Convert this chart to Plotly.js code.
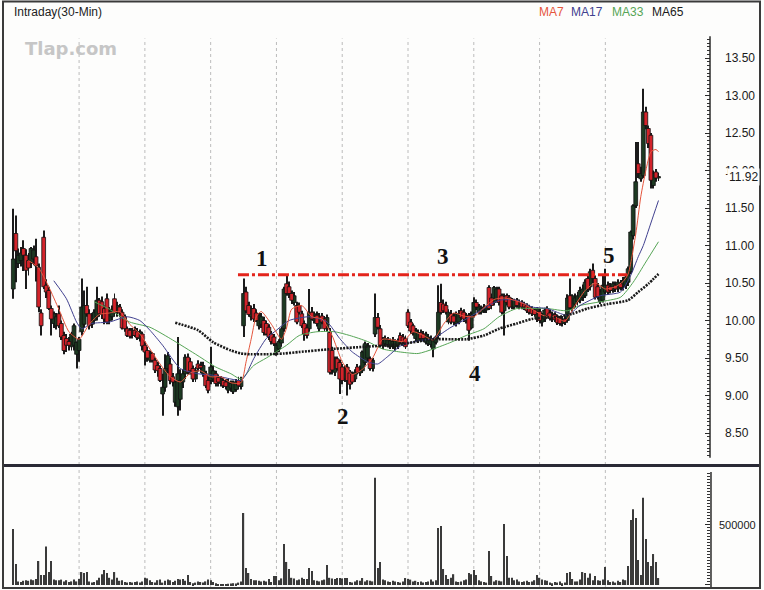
<!DOCTYPE html>
<html><head><meta charset="utf-8">
<script src="https://cdn.plot.ly/plotly-3.0.1.min.js"></script>
<style>html,body{margin:0;padding:0;background:#fdfdfc;} #chart{width:764px;height:590px;}</style>
</head><body><div id="chart"></div>
<script>
// ---------------- DATA ----------------
const openP = [10.42,11.16,10.76,10.80,10.96,10.87,10.80,10.76,10.82,10.85,
 10.71,10.10,11.11,10.47,10.40,10.16,9.96,9.93,10.09,9.96,
 9.80,9.76,9.72,9.65,9.67,9.55,9.60,9.85,9.95,10.20,
 10.09,9.95,10.00,10.05,10.27,10.25,10.16,10.29,10.00,10.05,
 10.29,10.10,10.18,10.11,10.05,9.89,9.87,9.80,9.87,9.85,
 9.76,9.82,9.67,9.60,9.47,9.56,9.47,9.40,9.36,9.02,
 9.11,9.36,9.42,9.25,8.91,8.85,8.95,9.18,9.29,9.51,
 9.45,9.36,9.22,9.42,9.40,9.29,9.29,9.20,9.20,9.22,
 9.29,9.24,9.16,9.20,9.18,9.07,9.10,9.05,9.08,9.20,
 9.12,9.93,10.38,10.20,10.05,10.16,10.10,9.93,9.95,10.00,
 9.96,9.91,9.82,9.78,9.58,9.62,9.70,9.89,10.49,10.45,
 10.36,10.24,10.20,10.20,10.09,9.96,9.90,9.89,10.11,10.00,
 10.07,9.89,10.06,10.02,9.89,9.84,9.60,9.31,9.49,9.44,
 9.38,9.22,9.38,9.30,9.29,9.22,9.38,9.30,9.33,9.44,
 9.50,9.49,9.36,9.82,10.04,9.89,9.67,9.69,9.68,9.65,
 9.66,9.65,9.67,9.80,9.78,9.76,10.11,9.98,9.93,9.76,
 9.73,9.84,9.82,9.71,9.69,9.68,9.62,9.71,9.80,10.24,
 10.22,10.20,9.98,10.09,10.06,9.96,9.98,10.13,10.11,10.00,
 10.07,9.90,10.07,10.24,10.11,10.11,10.13,10.14,10.44,10.30,
 10.24,10.28,10.42,10.33,10.13,10.33,10.31,10.18,10.18,10.27,
 10.18,10.24,10.22,10.20,10.18,10.16,10.14,10.02,10.12,9.98,
 10.02,10.16,10.10,10.02,10.08,10.05,10.03,9.96,10.02,10.00,
 10.33,10.16,10.22,10.25,10.27,10.31,10.33,10.56,10.45,10.67,
 10.56,10.45,10.25,10.27,10.38,10.47,10.45,10.40,10.47,10.42,
 10.49,10.45,10.47,10.51,10.65,11.13,11.53,12.09,11.89,11.93,
 12.78,12.56,12.47,11.80,11.98,11.90];
const highP = [11.49,11.40,10.96,10.98,11.07,10.95,10.90,10.98,11.00,11.09,
 10.76,10.15,11.20,10.55,10.45,10.20,10.12,10.10,10.20,10.00,
 9.85,9.82,9.78,9.85,9.96,9.72,9.78,10.56,10.40,10.45,
 10.15,10.10,10.15,10.45,10.30,10.32,10.20,10.36,10.18,10.20,
 10.36,10.25,10.22,10.15,10.08,9.92,9.90,9.90,9.92,9.90,
 9.88,9.85,9.72,9.65,9.60,9.58,9.50,9.45,9.40,9.29,
 9.55,9.58,9.50,9.30,9.20,9.78,9.35,9.35,9.55,9.56,
 9.50,9.40,9.38,9.47,9.45,9.45,9.33,9.25,9.65,9.40,
 9.33,9.28,9.26,9.24,9.22,9.22,9.20,9.20,9.22,9.25,
 9.25,10.56,10.45,10.25,10.20,10.22,10.15,10.10,10.10,10.05,
 10.00,9.95,9.86,9.82,9.70,9.75,9.92,10.45,10.60,10.52,
 10.40,10.38,10.25,10.24,10.13,10.00,9.95,10.42,10.18,10.12,
 10.12,10.10,10.10,10.06,10.08,9.90,9.65,9.52,9.52,9.48,
 9.42,9.40,9.42,9.34,9.32,9.35,9.42,9.40,9.60,9.72,
 9.70,9.52,9.50,10.36,10.10,9.94,9.78,9.80,9.78,9.76,
 9.78,9.75,9.76,9.84,9.82,9.80,10.15,10.02,9.96,9.90,
 9.88,9.88,9.86,9.85,9.82,9.80,9.76,9.80,10.47,10.49,
 10.28,10.25,10.15,10.14,10.10,10.12,10.14,10.17,10.15,10.10,
 10.10,10.12,10.31,10.28,10.22,10.20,10.22,10.20,10.47,10.36,
 10.46,10.45,10.45,10.36,10.36,10.36,10.34,10.30,10.29,10.30,
 10.28,10.27,10.25,10.23,10.21,10.19,10.17,10.18,10.16,10.10,
 10.17,10.19,10.14,10.12,10.11,10.08,10.06,10.06,10.05,10.35,
 10.56,10.35,10.36,10.38,10.45,10.48,10.55,10.62,10.69,10.76,
 10.60,10.50,10.42,10.60,10.69,10.52,10.50,10.52,10.52,10.55,
 10.54,10.58,10.60,10.72,11.20,11.55,12.38,12.38,12.05,13.09,
 12.85,12.60,12.50,12.00,12.02,11.97];
const lowP = [10.29,10.51,10.70,10.72,10.66,10.42,10.60,10.70,10.74,10.52,
 10.11,9.80,10.42,10.30,10.14,9.80,9.90,9.88,9.90,9.74,
 9.55,9.58,9.60,9.60,9.60,9.36,9.45,9.80,9.90,10.05,
 9.88,9.90,9.95,10.00,10.05,10.02,9.95,9.95,9.95,10.00,
 10.05,10.05,10.05,9.88,9.85,9.78,9.76,9.76,9.78,9.74,
 9.72,9.60,9.40,9.45,9.44,9.44,9.30,9.25,9.18,8.73,
 9.05,9.30,9.15,9.12,8.85,8.73,8.80,9.10,9.22,9.28,
 9.28,9.18,9.18,9.32,9.30,9.25,9.10,9.03,9.15,9.18,
 9.12,9.12,9.12,9.10,9.08,9.03,9.05,9.02,9.05,9.08,
 9.08,9.78,10.10,10.05,10.00,9.98,9.98,9.88,9.90,9.80,
 9.80,9.74,9.68,9.66,9.53,9.58,9.65,9.85,10.33,10.30,
 10.22,10.20,9.95,10.08,9.90,9.73,9.76,9.85,10.00,9.96,
 9.92,9.85,9.95,9.86,9.85,9.28,9.28,9.26,9.33,9.02,
 9.15,9.18,9.00,9.08,9.15,9.18,9.28,9.26,9.30,9.40,
 9.45,9.33,9.32,9.78,9.88,9.64,9.62,9.65,9.64,9.62,
 9.62,9.60,9.62,9.68,9.66,9.62,9.90,9.82,9.80,9.72,
 9.70,9.72,9.72,9.68,9.66,9.64,9.51,9.68,9.75,10.08,
 10.10,10.08,9.95,9.95,9.94,9.92,9.95,10.00,9.98,9.96,
 9.73,9.88,10.04,10.14,10.08,10.08,10.10,10.10,10.14,10.15,
 10.20,10.24,10.20,10.08,9.80,10.20,10.15,10.15,10.15,10.17,
 10.15,10.15,10.14,10.10,10.08,10.06,10.05,9.98,9.96,9.92,
 9.98,10.04,10.00,9.98,9.98,9.94,9.93,9.92,9.94,9.97,
 10.14,10.12,10.18,10.20,10.23,10.26,10.30,10.38,10.40,10.50,
 10.28,10.28,10.22,10.24,10.34,10.34,10.36,10.37,10.38,10.38,
 10.40,10.40,10.42,10.46,10.62,11.08,11.50,11.90,11.85,11.90,
 12.55,12.30,11.76,11.76,11.85,11.86];
const closeP = [10.82,10.93,10.87,10.90,10.87,10.67,10.70,10.96,10.94,10.73,
 10.18,9.93,10.45,10.38,10.16,10.02,10.09,10.05,9.93,9.78,
 9.60,9.67,9.67,9.82,9.93,9.71,9.75,10.18,10.20,10.09,
 9.93,10.06,10.11,10.27,10.09,10.08,10.02,9.98,10.13,10.15,
 10.11,10.20,10.10,9.90,9.89,9.80,9.79,9.87,9.80,9.77,
 9.85,9.66,9.58,9.50,9.56,9.47,9.34,9.33,9.20,9.11,
 9.36,9.53,9.20,9.18,9.18,9.29,9.20,9.29,9.51,9.31,
 9.33,9.22,9.34,9.36,9.37,9.40,9.13,9.07,9.38,9.33,
 9.16,9.18,9.22,9.13,9.12,9.18,9.16,9.18,9.18,9.13,
 9.20,10.36,10.13,10.08,10.16,10.02,10.00,10.07,10.05,9.84,
 9.82,9.78,9.72,9.69,9.67,9.72,9.89,10.42,10.36,10.36,
 10.27,10.33,9.98,10.11,9.93,9.82,9.80,10.11,10.02,10.09,
 9.96,10.04,9.98,9.89,10.04,9.31,9.34,9.49,9.36,9.22,
 9.20,9.36,9.20,9.15,9.18,9.31,9.31,9.36,9.58,9.69,
 9.66,9.36,9.47,10.04,9.91,9.67,9.73,9.76,9.74,9.73,
 9.72,9.73,9.72,9.71,9.72,9.65,9.93,9.86,9.84,9.87,
 9.84,9.76,9.76,9.82,9.78,9.76,9.73,9.78,10.11,10.11,
 10.13,10.11,10.11,9.98,9.98,10.09,10.09,10.04,10.02,10.07,
 9.87,10.09,10.24,10.18,10.18,10.16,10.18,10.17,10.16,10.20,
 10.44,10.42,10.24,10.11,10.33,10.24,10.18,10.27,10.27,10.20,
 10.24,10.18,10.18,10.13,10.11,10.09,10.08,10.16,10.00,10.05,
 10.14,10.07,10.03,10.09,10.01,9.97,9.96,10.02,9.98,10.30,
 10.17,10.33,10.30,10.33,10.40,10.42,10.51,10.42,10.65,10.56,
 10.31,10.32,10.38,10.47,10.47,10.38,10.40,10.49,10.42,10.51,
 10.44,10.53,10.58,10.69,11.18,11.53,11.85,11.96,11.96,12.78,
 12.60,12.36,11.87,11.96,11.90,11.92];
const volume = [467000,175000,30000,25000,35000,40000,35000,45000,40000,50000,
 200000,83000,83000,320000,108000,200000,45000,40000,40000,45000,
 30000,40000,25000,30000,45000,30000,50000,108000,100000,108000,
 30000,20000,25000,40000,60000,90000,125000,100000,60000,45000,
 108000,60000,35000,40000,25000,20000,25000,20000,25000,30000,
 20000,30000,60000,55000,40000,25000,20000,40000,45000,20000,
 35000,45000,40000,25000,35000,50000,45000,50000,35000,83000,
 25000,15000,20000,30000,25000,20000,30000,45000,40000,25000,
 15000,8000,5000,5000,5000,10000,12000,15000,12000,20000,
 30000,600000,142000,100000,50000,40000,40000,35000,30000,35000,
 30000,50000,25000,75000,75000,40000,55000,342000,192000,133000,
 60000,55000,40000,45000,60000,50000,50000,142000,117000,40000,
 35000,30000,40000,45000,167000,60000,55000,50000,58000,58000,
 55000,58000,58000,25000,20000,30000,40000,35000,58000,30000,
 40000,35000,30000,894000,142000,192000,45000,40000,30000,25000,
 35000,30000,25000,20000,30000,58000,50000,45000,30000,35000,
 25000,30000,20000,25000,30000,45000,30000,40000,475000,492000,
 133000,83000,50000,60000,90000,30000,25000,30000,40000,45000,
 100000,90000,125000,83000,40000,30000,25000,20000,283000,75000,
 30000,40000,35000,30000,508000,242000,60000,60000,40000,45000,
 30000,25000,30000,35000,25000,30000,40000,83000,60000,45000,
 40000,35000,20000,15000,25000,20000,30000,15000,20000,100000,
 108000,50000,30000,30000,45000,108000,100000,60000,95000,40000,
 75000,40000,35000,45000,150000,40000,25000,30000,20000,35000,
 25000,45000,40000,158000,541000,631000,558000,208000,83000,728000,
 383000,192000,158000,258000,192000,58000];

// moving averages (bar index, value)
const ma7X  = [6,10,14,18,22,26,30,34,38,42,46,50,54,58,62,66,70,74,78,82,86,90,92,94,96,98,102,106,108,110,114,118,122,126,130,134,138,142,146,150,154,158,162,166,170,174,178,182,186,190,194,198,202,206,210,214,218,222,226,230,234,238,241,243,246,248,250,252,254,255];
const ma7Y  = [10.80,10.70,10.45,10.15,9.85,9.75,9.95,10.08,10.10,10.12,9.95,9.82,9.62,9.42,9.25,9.18,9.30,9.33,9.25,9.25,9.17,9.17,9.45,9.75,10.05,10.12,9.95,9.75,9.90,10.15,10.20,10.05,10.02,9.80,9.45,9.28,9.35,9.50,9.75,9.74,9.72,9.85,9.80,9.74,9.95,10.10,10.06,10.05,10.17,10.28,10.30,10.27,10.22,10.13,10.06,10.05,9.99,10.20,10.40,10.50,10.42,10.45,10.52,10.62,11.15,11.65,12.00,12.25,12.28,12.25];
const ma17X = [16,21,25,27,31,38,45,50,54,59,66,73,79,86,90,92,95,100,104,109,117,124,129,134,140,144,148,153,160,166,173,179,186,192,199,205,211,219,224,232,240,244,247,249,252,255];
const ma17Y = [10.53,10.29,9.98,9.89,9.96,9.98,10.05,10.00,9.87,9.67,9.36,9.29,9.27,9.22,9.20,9.28,9.49,9.76,9.87,10.00,10.05,9.98,9.76,9.58,9.45,9.42,9.52,9.66,9.73,9.76,9.91,10.02,10.16,10.27,10.27,10.18,10.16,10.07,10.20,10.33,10.38,10.60,10.85,11.00,11.30,11.60];
const ma33X = [32,38,46,54,62,73,80,86,90,95,100,108,113,120,127,133,140,146,153,160,166,173,179,186,192,199,205,211,219,224,232,240,245,250,255];
const ma33Y = [10.25,10.15,9.98,9.91,9.76,9.53,9.38,9.29,9.22,9.40,9.50,9.67,9.80,9.85,9.85,9.80,9.72,9.62,9.58,9.56,9.62,9.71,9.80,9.89,10.05,10.16,10.16,10.16,10.13,10.20,10.25,10.31,10.51,10.78,11.05];
const ma65X = [64,73,79,86,90,94,100,107,113,126,139,152,166,173,179,186,192,199,205,210,216,221,227,235,243,247,251,255];
const ma65Y = [9.97,9.87,9.71,9.60,9.56,9.55,9.55,9.56,9.58,9.62,9.65,9.68,9.75,9.75,9.75,9.80,9.89,9.96,10.02,10.04,10.05,10.09,10.16,10.22,10.27,10.38,10.49,10.62];

const maNames = ['MA7','MA17','MA33','MA65'];
const priceTicks = [8.5,9,9.5,10,10.5,11,11.5,12,12.5,13,13.5];
const priceTickText = ['8.50','9.00','9.50','10.00','10.50','11.00','11.50','12.00','12.50','13.00','13.50'];
const volTicks = [0,500000];
const volTickText = ['0','500000'];
const lastPrice = 11.92;
const sessionStarts = [26,52,78,104,130,156,182,208,234];
const resistance = {from: 88.8, to: 242.6, level: 10.61};
const waveLabels = ['1','2','3','4','5'];
const waveX = [98.3,130.3,169.8,182.5,235.5];
const waveY = [10.83,8.72,10.86,9.30,10.87];

// ---------------- BUILD ----------------
const N = closeP.length;
const idx = Array.from({length:N}, (_, i) => i);
const upB=[], upH=[], dnB=[], dnH=[], wB=[], wH=[];
for (let i=0;i<N;i++){
  const b = Math.min(openP[i], closeP[i]);
  const h = Math.max(Math.abs(closeP[i]-openP[i]), 0.012);
  if (closeP[i] >= openP[i]) { upB.push(b); upH.push(h); dnB.push(null); dnH.push(null); }
  else { dnB.push(b); dnH.push(h); upB.push(null); upH.push(null); }
  wB.push(lowP[i]); wH.push(highP[i]-lowP[i]);
}
const FONT = 'Liberation Sans, Arial, sans-serif';
const maColors = ['#e5553c','#40408f','#56a556','#1a1a1a'];

const traces = [
  {type:'bar', x:idx, base:wB, y:wH, width:0.38, marker:{color:'#1b1b1b'}, yaxis:'y', hoverinfo:'skip'},
  {type:'bar', x:idx, base:upB, y:upH, width:1.5, marker:{color:'#1d3a22', line:{color:'#111', width:0.8}}, yaxis:'y', hoverinfo:'skip'},
  {type:'bar', x:idx, base:dnB, y:dnH, width:1.5, marker:{color:'#d3232a', line:{color:'#111', width:0.8}}, yaxis:'y', hoverinfo:'skip'},
  {type:'bar', x:idx, y:volume, width:0.5, marker:{color:'#3a3a3a'}, yaxis:'y2', hoverinfo:'skip'},
  {type:'scatter', mode:'lines', x:ma33X, y:ma33Y, line:{color:maColors[2], width:1, shape:'spline', smoothing:0.6}, yaxis:'y', hoverinfo:'skip'},
  {type:'scatter', mode:'lines', x:ma17X, y:ma17Y, line:{color:maColors[1], width:1, shape:'spline', smoothing:0.6}, yaxis:'y', hoverinfo:'skip'},
  {type:'scatter', mode:'lines', x:ma7X, y:ma7Y, line:{color:maColors[0], width:1, shape:'spline', smoothing:0.6}, yaxis:'y', hoverinfo:'skip'},
  {type:'scatter', mode:'lines', x:ma65X, y:ma65Y, line:{color:maColors[3], width:2.6, dash:'2px,1.2px', shape:'spline', smoothing:0.6}, yaxis:'y', hoverinfo:'skip'}
];

// pixel helpers for page decoration
const PX = x => (x - 4) / 706;
const PY = y => (587 - y) / 584;

const minorP = []; for (let k=164; k<=275; k++) minorP.push(+(k*0.05).toFixed(2));
const minorV = []; for (let k=1; k<=37; k++) minorV.push(k*25000);

const shapes = [];
sessionStarts.forEach(g => {
  shapes.push({type:'line', layer:'below', xref:'x', yref:'y', x0:g, x1:g, y0:8.0733, y1:13.76, line:{color:'#bcbcbc', width:1, dash:'3px,3px'}});
  shapes.push({type:'line', layer:'below', xref:'x', yref:'y2', x0:g, x1:g, y0:-16667, y1:983333, line:{color:'#bcbcbc', width:1, dash:'3px,3px'}});
});
shapes.push({type:'line', xref:'x', yref:'y', x0:resistance.from, x1:resistance.to, y0:resistance.level, y1:resistance.level, line:{color:'#e3241b', width:2.8, dash:'11px,3px,3px,3px'}});
shapes.push({type:'line', xref:'paper', yref:'y', x0:1, x1:1, y0:8.17, y1:13.79, line:{color:'#2a2a2a', width:1.5}});
shapes.push({type:'line', xref:'paper', yref:'y2', x0:1.0014, x1:1.0014, y0:-16667, y1:941667, line:{color:'#2a2a2a', width:1.5}});
shapes.push({type:'line', xref:'paper', yref:'paper', x0:PX(3), x1:PX(760), y0:PY(465.5), y1:PY(465.5), line:{color:'#2a2a35', width:3}});
shapes.push({type:'rect', xref:'paper', yref:'paper', x0:PX(3), x1:PX(760), y0:PY(588), y1:PY(1.5), line:{color:'#3a3a3a', width:2}, fillcolor:'rgba(0,0,0,0)'});

const annotations = [
  {xref:'paper', yref:'paper', x:PX(12), y:PY(11.5), xanchor:'left', yanchor:'middle', text:'Intraday(30-Min)', showarrow:false, font:{family:FONT, size:12, color:'#222'}},
  {xref:'paper', yref:'paper', x:PX(23), y:PY(48), xanchor:'left', yanchor:'middle', text:'<b>Tlap.com</b>', showarrow:false, font:{family:'DejaVu Sans, Verdana, sans-serif', size:18, color:'#c6c6c6'}},
  {xref:'paper', yref:'y', x:1, xanchor:'left', xshift:17, y:lastPrice, yanchor:'middle', text:lastPrice.toFixed(2), showarrow:false, bgcolor:'#fdfdfc', borderpad:1, font:{family:FONT, size:12, color:'#1a1a1a'}}
];
const legX = [537,569,610,650];
maNames.forEach((n,k) => annotations.push({xref:'paper', yref:'paper', x:PX(legX[k]), y:PY(12), xanchor:'left', yanchor:'middle', text:n, showarrow:false, font:{family:FONT, size:12, color:maColors[k]}}));
waveLabels.forEach((t,k) => annotations.push({xref:'x', yref:'y', x:waveX[k], y:waveY[k], text:'<b>'+t+'</b>', showarrow:false, xanchor:'center', yanchor:'middle', font:{family:'Liberation Serif, Times New Roman, serif', size:23, color:'#111'}}));

const layout = {
  width:764, height:590, paper_bgcolor:'#fdfdfc', plot_bgcolor:'#fdfdfc',
  margin:{l:4, r:54, t:3, b:3}, showlegend:false, barmode:'overlay',
  font:{family:FONT, color:'#1a1a1a'},
  xaxis:{range:[-3.68,275.36], showgrid:false, zeroline:false, showticklabels:false, ticks:'', showline:false, anchor:'y2', fixedrange:true},
  yaxis:{domain:[0.2089,1], range:[8.0733,14.2333], side:'right', anchor:'x', showgrid:false, zeroline:false, showline:false,
         ticks:'inside', ticklen:5, tickcolor:'#2a2a2a', tickmode:'array', tickvals:priceTicks, ticktext:priceTickText,
         tickfont:{family:FONT, size:12, color:'#1a1a1a'}, ticklabelstandoff:14,
         minor:{tickmode:'array', tickvals:minorP, ticks:'inside', ticklen:3, tickcolor:'#333', showgrid:false}, fixedrange:true},
  yaxis2:{domain:[0,0.2055], range:[-16667,983333], side:'right', anchor:'x', showgrid:false, zeroline:false, showline:false,
         ticks:'inside', ticklen:5, tickcolor:'#2a2a2a', tickmode:'array', tickvals:volTicks, ticktext:volTickText,
         tickfont:{family:FONT, size:11, color:'#1a1a1a'}, ticklabelstandoff:8,
         minor:{tickmode:'array', tickvals:minorV, ticks:'inside', ticklen:3, tickcolor:'#333', showgrid:false}, fixedrange:true},
  shapes: shapes, annotations: annotations
};
Plotly.newPlot('chart', traces, layout, {displayModeBar:false, responsive:false});
</script></body></html>
